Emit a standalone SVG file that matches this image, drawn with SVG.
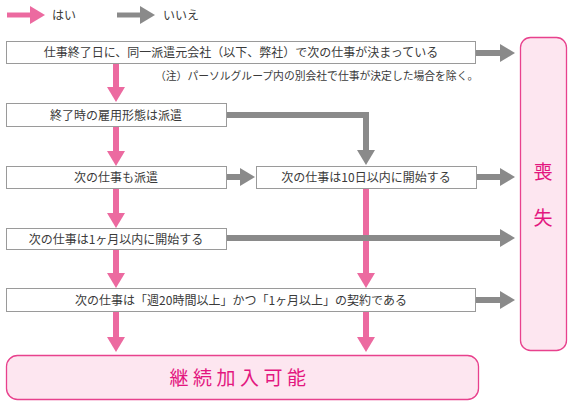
<svg xmlns="http://www.w3.org/2000/svg" width="571" height="406" viewBox="0 0 571 406">
<defs>
<style>
.box{fill:#fff;stroke:#9a9a9a;stroke-width:1}
.t{font-family:"Noto Sans CJK JP","Noto Sans",sans-serif;font-size:12px;fill:#3a3a3a;text-anchor:middle}
.note{font-family:"Noto Sans CJK JP","Noto Sans",sans-serif;font-size:10.8px;fill:#3a3a3a}
.leg{font-family:"Noto Sans CJK JP","Noto Sans",sans-serif;font-size:12px;fill:#3a3a3a}
.pk{fill:none;stroke:#ec6aa0;stroke-width:6;marker-end:url(#hp)}
.gy{fill:none;stroke:#8a8a8a;stroke-width:6;marker-end:url(#hg)}
.res{fill:#fde6f0;stroke:#e8418d;stroke-width:1.3}
.rt{font-family:"Noto Sans CJK JP","Noto Sans",sans-serif;fill:#e3167f;text-anchor:middle}
</style>
<marker id="hp" markerUnits="userSpaceOnUse" markerWidth="15" markerHeight="18" refX="5" refY="9" orient="auto" overflow="visible"><path d="M0,0 L15,9 L0,18 z" fill="#ec6aa0"/></marker>
<marker id="hg" markerUnits="userSpaceOnUse" markerWidth="15" markerHeight="18" refX="5" refY="9" orient="auto" overflow="visible"><path d="M0,0 L15,9 L0,18 z" fill="#8a8a8a"/></marker>
</defs>

<g id="legend">
<line class="pk" x1="7" y1="15" x2="35" y2="15" style="stroke-width:5"/>
<text class="leg" x="52" y="20">はい</text>
<line class="gy" x1="117" y1="15" x2="145" y2="15" style="stroke-width:5"/>
<text class="leg" x="163" y="20">いいえ</text>
</g>

<g id="connectors">
<line class="pk" x1="116" y1="63" x2="116" y2="92"/>
<line class="pk" x1="116" y1="127" x2="116" y2="156"/>
<line class="pk" x1="116" y1="188" x2="116" y2="218"/>
<line class="pk" x1="116" y1="249" x2="116" y2="278"/>
<line class="pk" x1="366" y1="188" x2="366" y2="278"/>
<line class="pk" x1="116" y1="312" x2="116" y2="342"/>
<line class="pk" x1="366" y1="312" x2="366" y2="342"/>
<line class="gy" x1="476" y1="53" x2="505" y2="53"/>
<path class="gy" d="M227,115 H366 V155"/>
<line class="gy" x1="227" y1="177" x2="245" y2="177"/>
<line class="gy" x1="477" y1="177" x2="505" y2="177"/>
<line class="gy" x1="227" y1="238" x2="505" y2="238"/>
<line class="gy" x1="476" y1="300" x2="505" y2="300"/>
</g>

<g id="q1">
<rect class="box" x="6.5" y="41.5" width="469" height="22"/>
<text class="t" x="241" y="57">仕事終了日に、同一派遣元会社（以下、弊社）で次の仕事が決まっている</text>
</g>
<g id="note">
<text class="note" x="155" y="80">（注）パーソルグループ内の別会社で仕事が決定した場合を除く。</text>
</g>
<g id="q2">
<rect class="box" x="6.5" y="103.5" width="220" height="23"/>
<text class="t" x="116" y="119.5">終了時の雇用形態は派遣</text>
</g>
<g id="q3">
<rect class="box" x="6.5" y="166.5" width="220" height="22"/>
<text class="t" x="116" y="182">次の仕事も派遣</text>
</g>
<g id="q4">
<rect class="box" x="256.5" y="166.5" width="220" height="22"/>
<text class="t" x="366" y="182">次の仕事は10日以内に開始する</text>
</g>
<g id="q5">
<rect class="box" x="6.5" y="228.5" width="220" height="21"/>
<text class="t" x="116" y="243.5">次の仕事は1ヶ月以内に開始する</text>
</g>
<g id="q6">
<rect class="box" x="6.5" y="288.5" width="469" height="23"/>
<text class="t" x="241" y="304.5">次の仕事は「週20時間以上」かつ「1ヶ月以上」の契約である</text>
</g>
<g id="loss">
<rect class="res" x="520.5" y="37.5" width="46" height="313" rx="10"/>
<text class="rt" x="543" y="179" style="font-size:19px">喪</text>
<text class="rt" x="543" y="225" style="font-size:19px">失</text>
</g>
<g id="continue">
<rect class="res" x="6.5" y="355.5" width="472" height="44" rx="11"/>
<text class="rt" x="240" y="385" style="font-size:19px;letter-spacing:4.5px">継続加入可能</text>
</g>
</svg>
